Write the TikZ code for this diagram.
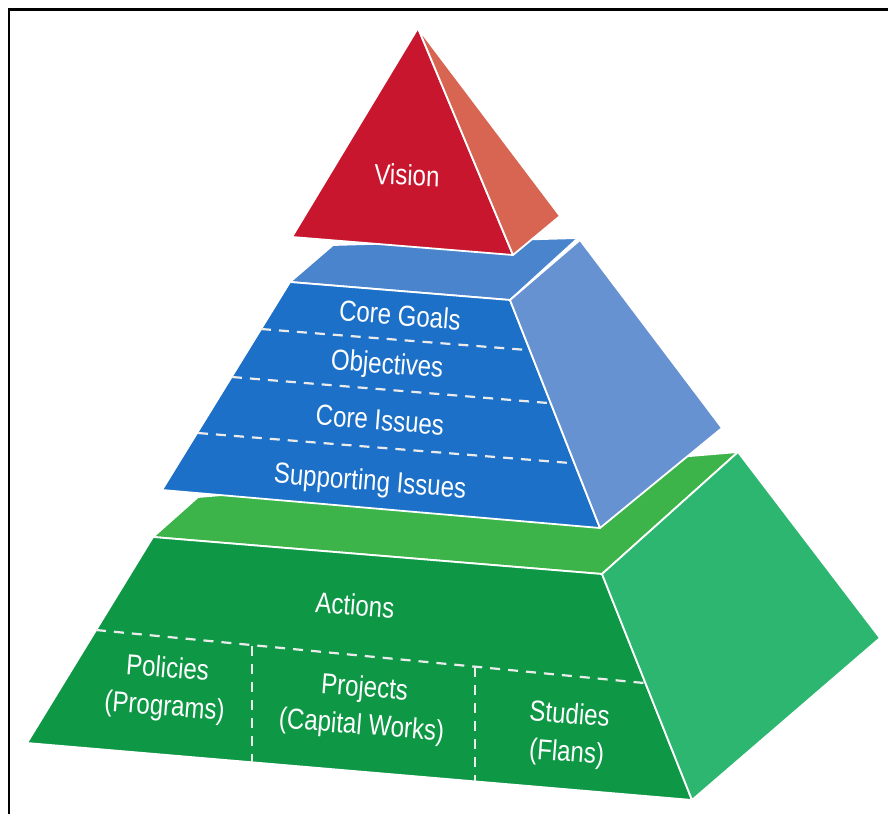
\documentclass[tikz,border=0pt]{standalone}
\usepackage{fontspec}
\newfontfamily\pyrfont[FakeStretch=0.83]{Liberation Sans}
\definecolor{redfront}{RGB}{200,22,46}
\definecolor{redside}{RGB}{216,100,82}
\definecolor{bluetop}{RGB}{74,132,204}
\definecolor{bluefront}{RGB}{28,112,200}
\definecolor{blueside}{RGB}{102,146,210}
\definecolor{greentop}{RGB}{60,180,74}
\definecolor{greenfront}{RGB}{14,152,70}
\definecolor{greenside}{RGB}{44,182,112}
\tikzset{
  face/.style={draw=white, line width=1.8pt, line join=round},
  lbl/.style={text=white, font=\pyrfont\fontsize{29}{38}\selectfont, align=center, inner sep=0pt},
  divider/.style={draw=white!92!black, line width=2.2pt, dash pattern=on 10pt off 8pt}
}
\begin{document}
\begin{tikzpicture}[x=1pt,y=-1pt]
\useasboundingbox (0,0) rectangle (888,814);
% frame
\draw[line width=2.2pt] (9,814) -- (9,9.5) -- (888,9.5);

% green frustum
\fill[greentop, face] (153,537) -- (198,497) -- (738,452) -- (602,574) -- cycle;
\fill[greenfront, face] (153,537) -- (602,574) -- (692,800) -- (27,743) -- cycle;
\fill[greenside, face] (602,574) -- (738,452) -- (880,638) -- (692,800) -- cycle;

% blue frustum
\fill[bluetop, face] (290,282) -- (333,245) -- (578,238) -- (510,300) -- cycle;
\fill[bluefront, face] (290,282) -- (510,300) -- (600,528) -- (162,490) -- cycle;
\fill[blueside, face] (510,300) -- (580,240) -- (722,428) -- (600,528) -- cycle;

% red pyramid
\fill[redfront, face] (418,28) -- (292,237) -- (513,255) -- cycle;
\fill[redside, face] (418,28) -- (560,216) -- (513,255) -- cycle;

% blue dividers
\coordinate (b1l) at (261,329); \coordinate (b1r) at (527,350);
\coordinate (b2l) at (232,377); \coordinate (b2r) at (548,403);
\coordinate (b3l) at (198,433); \coordinate (b3r) at (570,463);
\draw[divider] (b1l) -- (b1r);
\draw[divider] (b2l) -- (b2r);
\draw[divider] (b3l) -- (b3r);

% green dividers
\coordinate (g1l) at (96,630); \coordinate (g1r) at (644,683);
\coordinate (v1t) at (252,646); \coordinate (v1b) at (252,762);
\coordinate (v2t) at (475,667); \coordinate (v2b) at (475,781);
\draw[divider] (g1l) -- (g1r);
\draw[divider] (v1t) -- (v1b);
\draw[divider] (v2t) -- (v2b);

% labels
\node[lbl, rotate=-2] (vision) at (407,175) {Vision};
\node[lbl, rotate=-4.5] (goals) at (400,315) {Core Goals};
\node[lbl, rotate=-4.5] (obj) at (387,366) {Objectives};
\node[lbl, rotate=-4.5] (issues) at (380,420) {Core Issues};
\node[lbl, rotate=-4.5] (supp) at (370,483) {Supporting Issues};
\node[lbl, rotate=-4.5] (actions) at (355,605) {Actions};
\node[lbl, rotate=-4.5] (policies) at (166,689) {Policies\\(Programs)};
\node[lbl, rotate=-4.5] (projects) at (363,708) {Projects\\(Capital Works)};
\node[lbl, rotate=-4.5] (studies) at (568,735) {Studies\\(Flans)};
\end{tikzpicture}
\end{document}
